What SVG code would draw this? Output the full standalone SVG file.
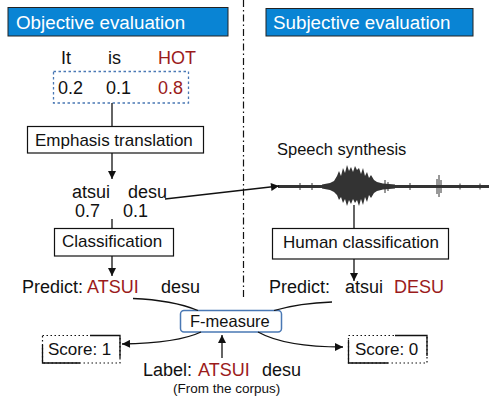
<svg xmlns="http://www.w3.org/2000/svg" width="489" height="399" viewBox="0 0 489 399">
<style>
text{font-family:"Liberation Sans",Arial,sans-serif;fill:#111}
.t18{font-size:18px}
.t17{font-size:17px}
.red{fill:#9b1b1b}
.title{font-size:18.8px;fill:#fff}
.tbox{fill:#0984d4;stroke:#222;stroke-width:1}
.box{fill:#fff;stroke:#111;stroke-width:1.2}
.ln{fill:none;stroke:#111;stroke-width:1.3}
.dot{fill:none;stroke:#111;stroke-width:1.2;stroke-dasharray:1.5 2.5}
</style>
<defs>
<marker id="ah" viewBox="0 0 10 10" refX="10" refY="5" markerWidth="10" markerHeight="8" markerUnits="userSpaceOnUse" orient="auto">
<path d="M0,0 L10,5 L0,10 z" fill="#111"/>
</marker>
</defs>
<rect width="489" height="399" fill="#fff"/>
<line x1="243.5" y1="0" x2="243.5" y2="298" stroke="#111" stroke-width="1.2" stroke-dasharray="7 3 1.5 3"/>
<g id="title-objective">
<rect class="tbox" x="8" y="7.5" width="220" height="28.5"/>
<text class="title" x="16" y="29">Objective evaluation</text>
</g>
<g id="title-subjective">
<rect class="tbox" x="266" y="8.5" width="207" height="27.5"/>
<text class="title" x="273" y="29">Subjective evaluation</text>
</g>
<g id="source-words">
<text class="t18" x="61" y="64">It</text>
<text class="t18" x="108" y="64">is</text>
<text class="t18 red" x="158" y="64">HOT</text>
</g>
<g id="emphasis-scores">
<rect x="53.5" y="71.5" width="135" height="31.5" fill="none" stroke="#4a78b4" stroke-width="1.3" stroke-dasharray="2.5 2.5"/>
<text class="t18" x="58" y="94">0.2</text>
<text class="t18" x="106" y="94">0.1</text>
<text class="t18 red" x="158" y="94">0.8</text>
</g>
<g id="emphasis-translation">
<rect class="box" x="27.5" y="126.5" width="176" height="26.5"/>
<text class="t17" x="35" y="146">Emphasis translation</text>
</g>
<g id="target-words">
<text class="t18" x="72" y="198">atsui</text>
<text class="t18" x="128" y="198">desu</text>
<text class="t18" x="75" y="217">0.7</text>
<text class="t18" x="123" y="217">0.1</text>
</g>
<g id="classification">
<rect class="box" x="54.5" y="228.5" width="119" height="27.5"/>
<text class="t17" x="62" y="247">Classification</text>
</g>
<g id="predict-objective">
<text class="t18" x="22" y="293">Predict: <tspan class="red">ATSUI</tspan><tspan x="161">desu</tspan></text>
</g>
<g id="speech-synthesis">
<text x="277" y="155" style="font-size:16.5px">Speech synthesis</text>
<g fill="#333" stroke="#333">
<rect x="278" y="185" width="211" height="3" stroke="none"/>
<path stroke="none" d="M322,184.5 L330,183 L334,181 L337,176 L339,171 L341,176 L343,168 L345,173 L347,165 L349,171 L351,167 L353,172 L355,166 L357,170 L359,168 L361,174 L363,168 L365,176 L367,172 L369,178 L371,175 L374,180 L377,182 L383,183.5 L395,184.5 L395,188.5 L383,189.5 L377,191 L374,193 L371,198 L369,195 L367,202 L365,197 L363,205 L361,199 L359,206 L357,200 L355,203 L353,199 L351,204 L349,200 L347,206 L345,199 L343,203 L341,197 L339,200 L337,195 L334,192 L330,190 L322,188.5 Z"/>
<path fill="none" stroke-width="1" d="M439,175 V197 M437,179 V194 M441,180 V193 M385,180 V193 M388,182 V191 M300,183 V190 M312,183 V190 M410,183 V190 M460,183.5 V189.5 M480,183.5 V189.5"/>
</g>
</g>
<g id="human-classification">
<rect class="box" x="272.5" y="228.5" width="176" height="30.5"/>
<text class="t17" x="283" y="248">Human classification</text>
</g>
<g id="predict-subjective">
<text class="t18" x="269" y="293">Predict: <tspan x="345">atsui</tspan><tspan class="red" x="394">DESU</tspan></text>
</g>
<g id="f-measure">
<rect x="180.5" y="310.5" width="101" height="21.5" rx="3.5" fill="#fff" stroke="#4a78b4" stroke-width="1.5"/>
<text x="190" y="327" style="font-size:16.5px">F-measure</text>
</g>
<g id="score-1">
<rect class="dot" x="42.5" y="335.5" width="77.5" height="27.5"/>
<polyline class="ln" points="90,335.5 120,335.5 120,358"/>
<polyline class="ln" points="42.5,345 42.5,363 80,363"/>
<text class="t17" x="48" y="355">Score: 1</text>
</g>
<g id="score-0">
<rect class="dot" x="348.5" y="335.5" width="78.5" height="27.5"/>
<polyline class="ln" points="395,335.5 427,335.5 427,356"/>
<polyline class="ln" points="348.5,340 348.5,363 388,363"/>
<text class="t17" x="355" y="355">Score: 0</text>
</g>
<g id="label">
<text class="t18" x="143" y="376">Label: <tspan class="red" x="198">ATSUI</tspan><tspan x="262">desu</tspan></text>
<text x="173" y="393" style="font-size:13.5px">(From the corpus)</text>
</g>
<g id="connectors">
<line class="ln" x1="112" y1="103" x2="112" y2="126.5"/>
<line class="ln" x1="112" y1="153" x2="112" y2="179" marker-end="url(#ah)"/>
<line class="ln" x1="112" y1="219" x2="112" y2="228.5"/>
<line class="ln" x1="112" y1="256" x2="112" y2="276" marker-end="url(#ah)"/>
<line class="ln" x1="165" y1="199" x2="279" y2="186" marker-end="url(#ah)"/>
<line class="ln" x1="354" y1="205" x2="354" y2="228.5"/>
<line class="ln" x1="354" y1="259" x2="354" y2="281" marker-end="url(#ah)"/>
<path class="ln" d="M133,298.5 Q172,300 198,310.5"/>
<path class="ln" d="M332,302 Q300,303 274,310.5"/>
<path class="ln" d="M201,332 Q178,343 122,344" marker-end="url(#ah)"/>
<path class="ln" d="M258,332 Q285,347 343,347" marker-end="url(#ah)"/>
<line class="ln" x1="222" y1="358" x2="222" y2="335" marker-end="url(#ah)"/>
</g>
</svg>
